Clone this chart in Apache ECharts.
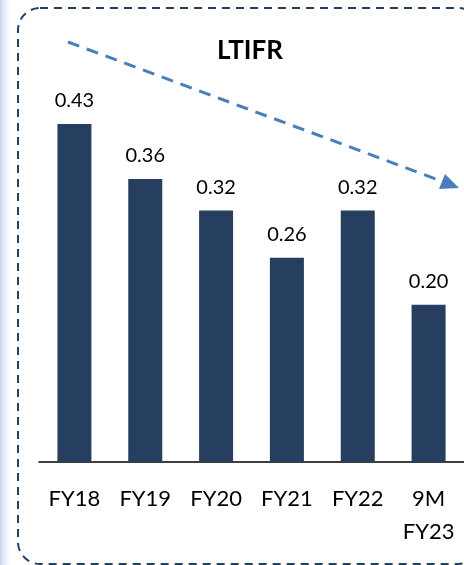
<!DOCTYPE html>
<html>
<head>
<meta charset="utf-8">
<script src="https://cdn.jsdelivr.net/npm/echarts@6/dist/echarts.min.js"></script>
<style>
  html, body { margin: 0; padding: 0; background: #fff; }
  #chart { width: 464px; height: 565px; }
</style>
</head>
<body>
<div id="chart"></div>
<script>
const categories = ['FY18', 'FY19', 'FY20', 'FY21', 'FY22', '9M\nFY23']
const ltifr = [0.43, 0.36, 0.32, 0.26, 0.32, 0.20]

const chart = echarts.init(document.getElementById('chart'))

const option = {
  animation: false,
  textStyle: { fontFamily: 'Lato' },
  graphic: [
    {
      // light blue strip on the left edge
      type: 'rect',
      z: -1,
      shape: { x: 0, y: 0, width: 14, height: 565 },
      style: {
        fill: new echarts.graphic.LinearGradient(0, 0, 1, 0, [
          { offset: 0, color: '#c6d8f0' },
          { offset: 1, color: 'rgba(255,255,255,0)' }
        ])
      }
    },
    {
      type: 'rect',
      shape: { x: 18, y: 8, width: 462, height: 556, r: 22 },
      style: { fill: 'none', stroke: '#243f60', lineWidth: 2, lineDash: [8, 6] }
    },
    {
      type: 'line',
      shape: { x1: 68, y1: 42, x2: 444, y2: 182 },
      style: { stroke: '#4a7ebb', lineWidth: 3, lineDash: [12, 8] }
    },
    {
      type: 'polygon',
      shape: { points: [[459, 188], [439, 189], [445, 174]] },
      style: { fill: '#4a7ebb' }
    },
    {
      type: 'text',
      left: 250 - 33,
      top: 38,
      style: { text: 'LTIFR', font: 'bold 26px Lato', fill: '#000' }
    }
  ],
  grid: { left: 39, right: -2, top: 69, bottom: 103 },
  xAxis: {
    type: 'category',
    data: categories,
    axisLine: { lineStyle: { color: '#000', width: 1.5 } },
    axisTick: { show: false },
    axisLabel: {
      interval: 0,
      color: '#000',
      fontSize: 22,
      lineHeight: 33,
      margin: 20
    }
  },
  yAxis: {
    type: 'value',
    min: 0,
    max: 0.5,
    show: false,
    splitLine: { show: false }
  },
  series: [
    {
      type: 'bar',
      data: ltifr,
      barWidth: 34,
      itemStyle: { color: '#263f60' },
      label: {
        show: true,
        position: 'top',
        distance: 13,
        color: '#000',
        fontSize: 20,
        formatter: p => p.value.toFixed(2)
      }
    }
  ]
}

chart.setOption(option)
</script>
</body>
</html>
